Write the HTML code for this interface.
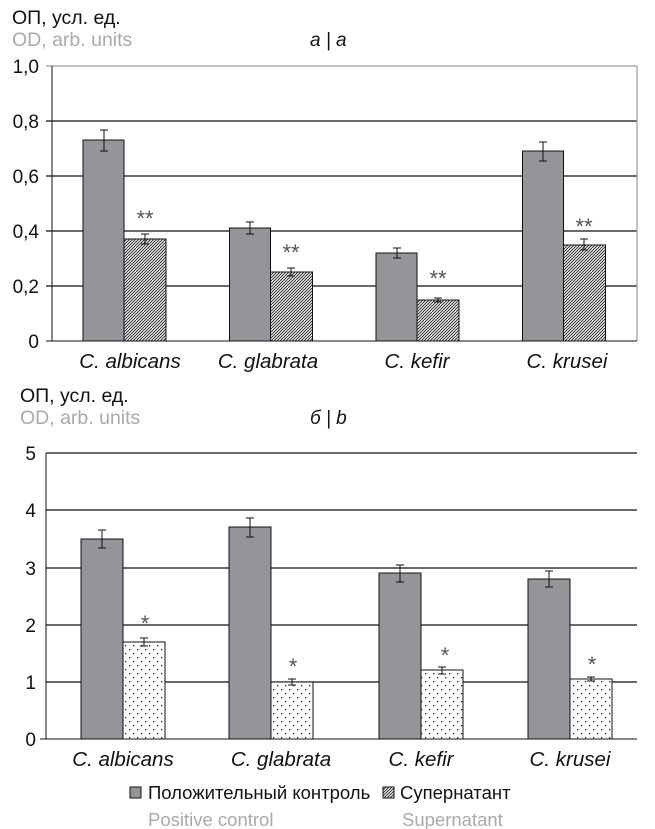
<!DOCTYPE html><html><head><meta charset="utf-8"><style>body{margin:0;background:#fff}svg{display:block}text{font-family:"Liberation Sans",sans-serif}</style></head><body>
<svg width="655" height="829" viewBox="0 0 655 829">
<defs>
<pattern id="h" width="3" height="3" patternUnits="userSpaceOnUse"><rect width="3" height="3" fill="#fff"/><path d="M-1,4 L4,-1 M-1,1 L1,-1 M2,4 L4,2" stroke="#333" stroke-width="1"/></pattern>
<pattern id="d" width="8" height="8" patternUnits="userSpaceOnUse"><rect width="8" height="8" fill="#fff"/><rect x="1" y="1" width="1.3" height="1.3" fill="#222"/><rect x="5" y="5" width="1.3" height="1.3" fill="#222"/></pattern>
</defs>
<text x="12" y="24" font-size="19.5" fill="#111">ОП, усл. ед.</text>
<text x="12" y="46" font-size="19.5" fill="#aaa">OD, arb. units</text>
<text x="310" y="46" font-size="19" font-style="italic" fill="#111">a | a</text>
<g font-size="19" fill="#111" text-anchor="end">
<text x="39" y="73">1,0</text><text x="39" y="128">0,8</text><text x="39" y="183">0,6</text><text x="39" y="238">0,4</text><text x="39" y="293">0,2</text><text x="39" y="348">0</text></g>
<g stroke="#111" stroke-width="1.2">
<line x1="46" y1="66" x2="637" y2="66" stroke="#999"/>
<line x1="46" y1="121" x2="637" y2="121"/><line x1="46" y1="176" x2="637" y2="176"/><line x1="46" y1="231" x2="637" y2="231"/><line x1="46" y1="286" x2="637" y2="286"/>
<line x1="637" y1="66" x2="637" y2="341" stroke="#999"/>
</g>
<g stroke="#111" stroke-width="1">
<rect x="83" y="140" width="41" height="201" fill="#959499"/><rect x="124" y="239" width="42" height="102" fill="url(#h)"/>
<rect x="229.5" y="228" width="41" height="113" fill="#959499"/><rect x="270.5" y="272" width="42" height="69" fill="url(#h)"/>
<rect x="376" y="253" width="41" height="88" fill="#959499"/><rect x="417" y="300" width="42" height="41" fill="url(#h)"/>
<rect x="522.5" y="151" width="41" height="190" fill="#959499"/><rect x="563.5" y="245" width="42" height="96" fill="url(#h)"/>
<path d="M104 130V151M100 130h8M100 151h8 M145 234V244M141 234h8M141 244h8 M250 222V234M246 222h8M246 234h8 M291 268V276M287 268h8M287 276h8 M397 248V258M393 248h8M393 258h8 M438 298V302M434 298h8M434 302h8 M543 142V161M539 142h8M539 161h8 M584 239V250M580 239h8M580 250h8" fill="none"/>
<line x1="52" y1="66" x2="52" y2="341"/><line x1="46" y1="341" x2="637" y2="341"/>
</g>
<g font-size="22" fill="#555" text-anchor="middle"><text x="145" y="226">**</text><text x="291" y="260">**</text><text x="438" y="286">**</text><text x="584" y="234">**</text></g>
<g font-size="20.5" font-style="italic" fill="#111" text-anchor="middle"><text x="130" y="368">C. albicans</text><text x="268" y="368">C. glabrata</text><text x="417" y="368">C. kefir</text><text x="567" y="368">C. krusei</text></g>

<text x="20" y="402" font-size="19.5" fill="#111">ОП, усл. ед.</text>
<text x="20" y="424" font-size="19.5" fill="#aaa">OD, arb. units</text>
<text x="310" y="424" font-size="19" font-style="italic" fill="#111">б | b</text>
<g font-size="19" fill="#111" text-anchor="end">
<text x="36" y="460">5</text><text x="36" y="517">4</text><text x="36" y="575">3</text><text x="36" y="632">2</text><text x="36" y="689">1</text><text x="36" y="746">0</text></g>
<g stroke="#111" stroke-width="1.2">
<line x1="46" y1="453" x2="637" y2="453"/><line x1="46" y1="510" x2="637" y2="510"/><line x1="46" y1="568" x2="637" y2="568"/><line x1="46" y1="625" x2="637" y2="625"/><line x1="46" y1="682" x2="637" y2="682"/>
</g>
<g stroke="#111" stroke-width="1">
<rect x="81" y="539" width="42" height="200" fill="#959499"/><rect x="123" y="642" width="42" height="97" fill="url(#d)"/>
<rect x="229" y="527" width="42" height="212" fill="#959499"/><rect x="271" y="682" width="42" height="57" fill="url(#d)"/>
<rect x="379" y="573" width="42" height="166" fill="#959499"/><rect x="421" y="670" width="42" height="69" fill="url(#d)"/>
<rect x="528" y="579" width="42" height="160" fill="#959499"/><rect x="570" y="679" width="42" height="60" fill="url(#d)"/>
<path d="M102 530V548M98 530h8M98 548h8 M144 638V646M140 638h8M140 646h8 M250 518V537M246 518h8M246 537h8 M292 679V685M288 679h8M288 685h8 M400 565V582M396 565h8M396 582h8 M442 667V674M438 667h8M438 674h8 M549 571V587M545 571h8M545 587h8 M591 677V681M587 677h8M587 681h8" fill="none"/>
<line x1="46" y1="453" x2="46" y2="739"/><line x1="40" y1="739" x2="637" y2="739"/>
</g>
<g font-size="22" fill="#555" text-anchor="middle"><text x="145" y="631">*</text><text x="293" y="674">*</text><text x="445" y="663">*</text><text x="592" y="672">*</text></g>
<g font-size="20.5" font-style="italic" fill="#111" text-anchor="middle"><text x="123" y="766">C. albicans</text><text x="281" y="766">C. glabrata</text><text x="421" y="766">C. kefir</text><text x="570" y="766">C. krusei</text></g>
<rect x="130" y="787" width="11" height="11" fill="#959499" stroke="#111"/>
<text x="148" y="799" font-size="18.5" fill="#111">Положительный контроль</text>
<rect x="383" y="787" width="11" height="11" fill="url(#h)" stroke="#111"/>
<text x="400" y="799" font-size="18.5" fill="#111">Супернатант</text>
<text x="148" y="826" font-size="18.5" fill="#aaa">Positive control</text>
<text x="402" y="826" font-size="18.5" fill="#aaa">Supernatant</text>
</svg></body></html>
